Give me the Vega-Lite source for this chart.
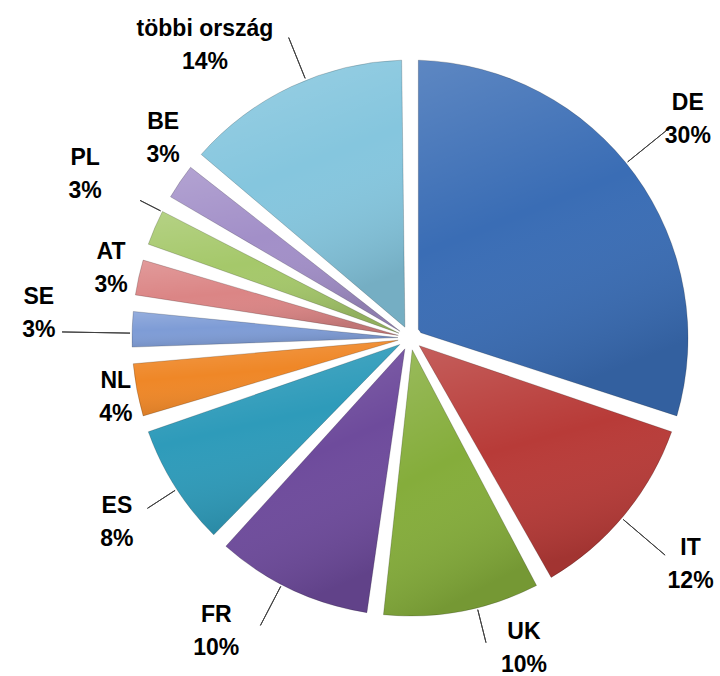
{
  "$schema": "https://vega.github.io/schema/vega-lite/v6.json",
  "autosize": "none",
  "width": 620,
  "height": 676,
  "padding": {"left": 100, "top": 0, "right": 0, "bottom": 0},
  "background": "white",
  "config": {"view": {"stroke": null},
    "text": {"font": "Liberation Sans", "fontWeight": "bold", "fontSize": 23, "lineHeight": 33, "lineBreak": "\n", "align": "center", "baseline": "middle", "dy": -16, "fill": "#000000"}},
  "data": {"values": [
    {"i": 1, "country": "DE", "value": 30},
    {"i": 2, "country": "IT", "value": 12},
    {"i": 3, "country": "UK", "value": 10},
    {"i": 4, "country": "FR", "value": 10},
    {"i": 5, "country": "ES", "value": 8},
    {"i": 6, "country": "NL", "value": 4},
    {"i": 7, "country": "SE", "value": 3},
    {"i": 8, "country": "AT", "value": 3},
    {"i": 9, "country": "PL", "value": 3},
    {"i": 10, "country": "BE", "value": 3},
    {"i": 11, "country": "többi ország", "value": 14}
  ]},
  "transform": [
    {"calculate": "datum.country + '\\n' + datum.value + '%'", "as": "label"}
  ],
  "encoding": {
    "theta": {"field": "value", "type": "quantitative", "stack": true},
    "order": {"field": "i", "type": "quantitative"},
    "color": {
      "field": "country", "type": "nominal", "legend": null,
      "scale": {
        "domain": ["DE", "IT", "UK", "FR", "ES", "NL", "SE", "AT", "PL", "BE", "többi ország"],
        "range": ["#3A6DB5", "#B83B38", "#85AD3B", "#6E4B9C", "#2E9BBA", "#EF8727", "#7E9CD6", "#DB8585", "#A5C86A", "#A28FC8", "#85C6DE"]
      }
    }
  },
  "layer": [
    {"mark": {"type": "arc", "radius": 278, "radius2": 12, "padAngle": 0.06}},
    {"mark": {"type": "arc", "radius": 278, "radius2": 12, "padAngle": 0.06,
      "fill": {"gradient": "linear", "x1": 0, "y1": 0, "x2": 0.3, "y2": 1,
        "stops": [{"offset": 0, "color": "rgba(255,255,255,0.18)"}, {"offset": 0.5, "color": "rgba(255,255,255,0)"}, {"offset": 1, "color": "rgba(0,0,0,0.12)"}]},
      "stroke": "rgba(0,0,0,0.18)", "strokeWidth": 1}},
    {"mark": {"type": "arc", "filled": false, "padAngle": 3.1416, "radius": 330, "radius2": 280, "thetaOffset": -0.052, "strokeWidth": 1},
     "encoding": {"color": {"value": "#404040"}, "strokeOpacity": {"condition": {"test": "datum.country == 'DE'", "value": 1}, "value": 0}}},
    {"mark": {"type": "arc", "filled": false, "padAngle": 3.1416, "radius": 335, "radius2": 280, "thetaOffset": 0.014, "strokeWidth": 1},
     "encoding": {"color": {"value": "#404040"}, "strokeOpacity": {"condition": {"test": "datum.country == 'IT'", "value": 1}, "value": 0}}},
    {"mark": {"type": "arc", "filled": false, "padAngle": 3.1416, "radius": 314, "radius2": 280, "thetaOffset": -0.056, "strokeWidth": 1},
     "encoding": {"color": {"value": "#404040"}, "strokeOpacity": {"condition": {"test": "datum.country == 'UK'", "value": 1}, "value": 0}}},
    {"mark": {"type": "arc", "filled": false, "padAngle": 3.1416, "radius": 324, "radius2": 280, "thetaOffset": 0.04, "strokeWidth": 1},
     "encoding": {"color": {"value": "#404040"}, "strokeOpacity": {"condition": {"test": "datum.country == 'FR'", "value": 1}, "value": 0}}},
    {"mark": {"type": "arc", "filled": false, "padAngle": 3.1416, "radius": 313, "radius2": 280, "thetaOffset": -0.01, "strokeWidth": 1},
     "encoding": {"color": {"value": "#404040"}, "strokeOpacity": {"condition": {"test": "datum.country == 'ES'", "value": 1}, "value": 0}}},
    {"mark": {"type": "arc", "filled": false, "padAngle": 3.1416, "radius": 348, "radius2": 280, "thetaOffset": -0.014, "strokeWidth": 1},
     "encoding": {"color": {"value": "#404040"}, "strokeOpacity": {"condition": {"test": "datum.country == 'SE'", "value": 1}, "value": 0}}},
    {"mark": {"type": "arc", "filled": false, "padAngle": 3.1416, "radius": 303, "radius2": 280, "thetaOffset": 0.063, "strokeWidth": 1},
     "encoding": {"color": {"value": "#404040"}, "strokeOpacity": {"condition": {"test": "datum.country == 'PL'", "value": 1}, "value": 0}}},
    {"mark": {"type": "arc", "filled": false, "padAngle": 3.1416, "radius": 324, "radius2": 280, "thetaOffset": 0.056, "strokeWidth": 1},
     "encoding": {"color": {"value": "#404040"}, "strokeOpacity": {"condition": {"test": "datum.country == 'többi ország'", "value": 1}, "value": 0}}},
    {"mark": {"type": "text", "radius": 354, "thetaOffset": -0.04},
     "encoding": {"text": {"condition": {"test": "datum.country == 'DE'", "field": "label"}, "value": ""}, "color": {"value": "#000000"}}},
    {"mark": {"type": "text", "radius": 360, "thetaOffset": -0.014},
     "encoding": {"text": {"condition": {"test": "datum.country == 'IT'", "field": "label"}, "value": ""}, "color": {"value": "#000000"}}},
    {"mark": {"type": "text", "radius": 330, "thetaOffset": -0.164},
     "encoding": {"text": {"condition": {"test": "datum.country == 'UK'", "field": "label"}, "value": ""}, "color": {"value": "#000000"}}},
    {"mark": {"type": "text", "radius": 351, "thetaOffset": 0.145},
     "encoding": {"text": {"condition": {"test": "datum.country == 'FR'", "field": "label"}, "value": ""}, "color": {"value": "#000000"}}},
    {"mark": {"type": "text", "radius": 346, "thetaOffset": 0.005},
     "encoding": {"text": {"condition": {"test": "datum.country == 'ES'", "field": "label"}, "value": ""}, "color": {"value": "#000000"}}},
    {"mark": {"type": "text", "radius": 300, "thetaOffset": -0.008},
     "encoding": {"text": {"condition": {"test": "datum.country == 'NL'", "field": "label"}, "value": ""}, "color": {"value": "#000000"}}},
    {"mark": {"type": "text", "radius": 372, "thetaOffset": 0.037},
     "encoding": {"text": {"condition": {"test": "datum.country == 'SE'", "field": "label"}, "value": ""}, "color": {"value": "#000000"}}},
    {"mark": {"type": "text", "radius": 307, "thetaOffset": 0.01},
     "encoding": {"text": {"condition": {"test": "datum.country == 'AT'", "field": "label"}, "value": ""}, "color": {"value": "#000000"}}},
    {"mark": {"type": "text", "radius": 364, "thetaOffset": 0.06},
     "encoding": {"text": {"condition": {"test": "datum.country == 'PL'", "field": "label"}, "value": ""}, "color": {"value": "#000000"}}},
    {"mark": {"type": "text", "radius": 318, "thetaOffset": 0.085},
     "encoding": {"text": {"condition": {"test": "datum.country == 'BE'", "field": "label"}, "value": ""}, "color": {"value": "#000000"}}},
    {"mark": {"type": "text", "radius": 358, "thetaOffset": -0.17},
     "encoding": {"text": {"condition": {"test": "datum.country == 'többi ország'", "field": "label"}, "value": ""}, "color": {"value": "#000000"}}}
  ]
}
